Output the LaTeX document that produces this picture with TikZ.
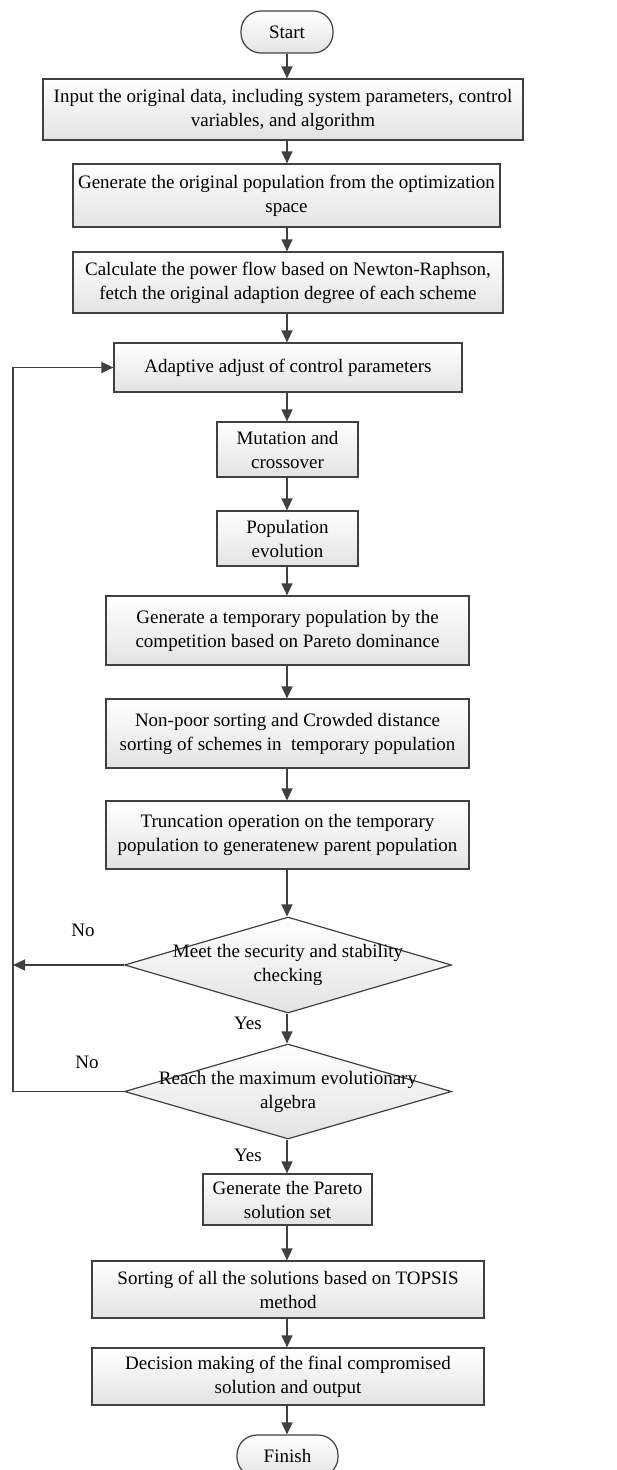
\documentclass[tikz,border=0pt]{standalone}
\usepackage{fontspec}
\setmainfont{Liberation Serif}
\usetikzlibrary{shapes.geometric,arrows.meta}
\definecolor{linecol}{HTML}{404040}
\begin{document}
\begin{tikzpicture}[x=1pt,y=-1pt,
  base/.style={draw=linecol, line width=1.2pt, top color=white, bottom color=black!11,
    inner sep=0pt, align=center, font=\fontsize{19}{24}\selectfont},
  box/.style={base, rectangle},
  term/.style={base, rectangle, rounded corners=20pt},
  dia/.style={base, diamond, aspect=3.4},
  dtext/.style={align=center, inner sep=0pt, font=\fontsize{19}{24}\selectfont},
  lbl/.style={inner sep=0pt, font=\fontsize{19}{24}\selectfont},
  arr/.style={draw=linecol, line width=1.3pt, -{Triangle[length=12pt,width=11pt]}}]
\useasboundingbox (0,0) rectangle (617,1470);
\coordinate (cx) at (287,0);
\coordinate (loopx) at (13,0);

\node[term, minimum width=92pt, minimum height=42pt] (start) at (287,32) {Start};
\node[box, minimum width=480pt, minimum height=61pt] (input) at (283,109.5) {Input the original data, including system parameters, control\\variables, and algorithm};
\node[box, minimum width=427pt, minimum height=63pt] (gen) at (286.5,195.5) {Generate the original population from the optimization\\space};
\node[box, minimum width=430pt, minimum height=61pt] (calc) at (288,282.5) {Calculate the power flow based on Newton-Raphson,\\fetch the original adaption degree of each scheme};
\node[box, minimum width=348pt, minimum height=49pt] (adapt) at (288,367.5) {Adaptive adjust of control parameters};
\node[box, minimum width=141pt, minimum height=55pt] (mut) at (287.5,449.5) {Mutation and\\crossover};
\node[box, minimum width=141pt, minimum height=55pt] (pop) at (287.5,538.5) {Population\\evolution};
\node[box, minimum width=363pt, minimum height=69pt] (temp) at (287.5,630.5) {Generate a temporary population by the\\competition based on Pareto dominance};
\node[box, minimum width=363pt, minimum height=69pt] (nonpoor) at (287.5,733.5) {Non-poor sorting and Crowded distance\\sorting of schemes in\ \ temporary population};
\node[box, minimum width=363pt, minimum height=68pt] (trunc) at (287.5,835) {Truncation operation on the temporary\\population to generatenew parent population};
\node[dia, minimum width=327pt, minimum height=96pt] (d1) at (288,965) {};
\node[dtext] (d1t) at (d1.center) {Meet the security and stability\\checking};
\node[dia, minimum width=327pt, minimum height=95pt] (d2) at (288,1091.5) {};
\node[dtext] (d2t) at (d2.center) {Reach the maximum evolutionary\\algebra};
\node[box, minimum width=169pt, minimum height=51pt] (pareto) at (287.5,1199.5) {Generate the Pareto\\solution set};
\node[box, minimum width=392pt, minimum height=57pt] (topsis) at (288,1289.5) {Sorting of all the solutions based on TOPSIS\\method};
\node[box, minimum width=392pt, minimum height=57pt] (decision) at (288,1376.5) {Decision making of the final compromised\\solution and output};
\node[term, minimum width=101pt, minimum height=42pt] (finish) at (287.5,1456) {Finish};

\node[lbl] (no1) at (83,930) {No};
\node[lbl] (no2) at (87,1062) {No};
\node[lbl] (yes1) at (248,1023) {Yes};
\node[lbl] (yes2) at (248,1155) {Yes};

\foreach \a/\b in {start/input,input/gen,gen/calc,calc/adapt,adapt/mut,mut/pop,pop/temp,temp/nonpoor,nonpoor/trunc,trunc/d1,d1/d2,d2/pareto,pareto/topsis,topsis/decision,decision/finish}
  \draw[arr] (\a.south -| cx) -- (\b.north -| cx);

\draw[arr] (d1.west) -- (d1.west -| loopx);
\draw[arr] (d2.west) -- (d2.west -| loopx) |- (adapt.west);
\end{tikzpicture}
\end{document}
